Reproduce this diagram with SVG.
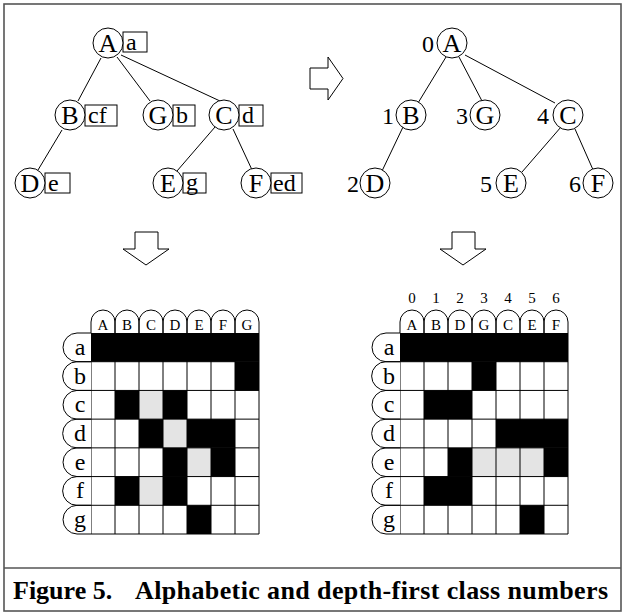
<svg xmlns="http://www.w3.org/2000/svg" width="626" height="616" viewBox="0 0 626 616">
<style>
.frame{fill:none;stroke:#555;stroke-width:1.6}
.edge{stroke:#000;stroke-width:1;fill:none}
.node circle{fill:#fff;stroke:#000;stroke-width:1}
.lab{fill:#fff;stroke:#000;stroke-width:1}
.t{font-family:"Liberation Serif","Times New Roman",serif;fill:#000}
.big{font-size:26px}
.mid{font-size:24px}
.sm{font-size:15px}
.hdr{fill:#fff;stroke:#000;stroke-width:1}
.grid{fill:none;stroke:#000;stroke-width:1}
.k{fill:#000}
.g{fill:#e4e4e4}
.arr{fill:#fff;stroke:#000;stroke-width:1}
.cap{font-family:"Liberation Serif","Times New Roman",serif;font-weight:bold;font-size:26px;fill:#000}
</style>
<rect x="0" y="0" width="626" height="616" fill="#fff"/>
<rect class="frame" x="4" y="4" width="617" height="607"/>
<line class="frame" x1="4" y1="568" x2="621" y2="568"/>

<!-- connectors -->
<g id="connectors">
<line class="edge" x1="101" y1="58" x2="78" y2="101"/>
<line class="edge" x1="117" y1="57" x2="150" y2="101"/>
<line class="edge" x1="121" y1="55" x2="220" y2="101"/>
<line class="edge" x1="62" y1="130" x2="38" y2="170"/>
<line class="edge" x1="215" y1="127" x2="177" y2="171"/>
<line class="edge" x1="233" y1="129" x2="253" y2="172"/>
<line class="edge" x1="446" y1="57" x2="418" y2="103"/>
<line class="edge" x1="459" y1="57" x2="482" y2="101"/>
<line class="edge" x1="465" y1="55" x2="555" y2="103"/>
<line class="edge" x1="403" y1="127" x2="382" y2="171"/>
<line class="edge" x1="561" y1="127" x2="522" y2="172"/>
<line class="edge" x1="575" y1="129" x2="594" y2="172"/>
</g>

<!-- left tree -->
<g id="L-A" class="node"><rect class="lab" x="123" y="32" width="24" height="20"/><circle cx="108" cy="43" r="15"/><text class="t big" x="108" y="52" text-anchor="middle">A</text><text class="t mid" x="126" y="50">a</text></g>
<g id="L-B" class="node"><rect class="lab" x="85" y="105" width="32" height="21"/><circle cx="70" cy="115" r="15"/><text class="t big" x="70" y="124" text-anchor="middle">B</text><text class="t mid" x="88" y="123">cf</text></g>
<g id="L-G" class="node"><rect class="lab" x="173" y="105" width="22" height="21"/><circle cx="158" cy="115" r="15"/><text class="t big" x="158" y="124" text-anchor="middle">G</text><text class="t mid" x="176" y="123">b</text></g>
<g id="L-C" class="node"><rect class="lab" x="239" y="105" width="24" height="21"/><circle cx="224" cy="115" r="15"/><text class="t big" x="224" y="124" text-anchor="middle">C</text><text class="t mid" x="242" y="123">d</text></g>
<g id="L-D" class="node"><rect class="lab" x="45" y="173" width="25" height="20"/><circle cx="30" cy="183" r="15"/><text class="t big" x="30" y="192" text-anchor="middle">D</text><text class="t mid" x="48" y="191">e</text></g>
<g id="L-E" class="node"><rect class="lab" x="183" y="173" width="23" height="20"/><circle cx="168" cy="183" r="15"/><text class="t big" x="168" y="192" text-anchor="middle">E</text><text class="t mid" x="186" y="190">g</text></g>
<g id="L-F" class="node"><rect class="lab" x="271" y="173" width="31" height="20"/><circle cx="256" cy="183" r="15"/><text class="t big" x="256" y="192" text-anchor="middle">F</text><text class="t mid" x="273" y="191">ed</text></g>

<!-- right tree -->
<g id="R-A" class="node"><circle cx="452" cy="43" r="15"/><text class="t big" x="452" y="52" text-anchor="middle">A</text><text class="t mid" x="434" y="52" text-anchor="end">0</text></g>
<g id="R-B" class="node"><circle cx="411" cy="115" r="15"/><text class="t big" x="411" y="124" text-anchor="middle">B</text><text class="t mid" x="394" y="124" text-anchor="end">1</text></g>
<g id="R-G" class="node"><circle cx="485" cy="115" r="15"/><text class="t big" x="485" y="124" text-anchor="middle">G</text><text class="t mid" x="468" y="124" text-anchor="end">3</text></g>
<g id="R-C" class="node"><circle cx="568" cy="115" r="15"/><text class="t big" x="568" y="124" text-anchor="middle">C</text><text class="t mid" x="549" y="124" text-anchor="end">4</text></g>
<g id="R-D" class="node"><circle cx="375" cy="183" r="15"/><text class="t big" x="375" y="192" text-anchor="middle">D</text><text class="t mid" x="359" y="192" text-anchor="end">2</text></g>
<g id="R-E" class="node"><circle cx="511" cy="183" r="15"/><text class="t big" x="511" y="192" text-anchor="middle">E</text><text class="t mid" x="492" y="192" text-anchor="end">5</text></g>
<g id="R-F" class="node"><circle cx="598" cy="183" r="15"/><text class="t big" x="598" y="192" text-anchor="middle">F</text><text class="t mid" x="581" y="192" text-anchor="end">6</text></g>

<!-- arrows -->
<g id="arrow-right"><path class="arr" d="M310,68 H328 V57 L343,78.5 L328,100 V89 H310 Z"/></g>
<g id="arrow-down-left"><path class="arr" d="M135,232 H158 V249 H169 L146,265 L123,249 H135 Z"/></g>
<g id="arrow-down-right"><path class="arr" d="M452,232 H475 V249 H486 L463,265 L440,249 H452 Z"/></g>

<!-- left matrix -->
<g id="matrix-left">
<rect x="91" y="333" width="168" height="201" fill="#fff"/>
<rect class="k" x="91" y="333" width="168" height="28.71"/>
<rect class="k" x="235" y="361.71" width="24" height="28.72"/>
<rect class="k" x="115" y="390.43" width="24" height="28.71"/>
<rect class="g" x="139" y="390.43" width="24" height="28.71"/>
<rect class="k" x="163" y="390.43" width="24" height="28.71"/>
<rect class="k" x="139" y="419.14" width="24" height="28.72"/>
<rect class="g" x="163" y="419.14" width="24" height="28.72"/>
<rect class="k" x="187" y="419.14" width="48" height="28.72"/>
<rect class="k" x="163" y="447.86" width="24" height="28.71"/>
<rect class="g" x="187" y="447.86" width="24" height="28.71"/>
<rect class="k" x="211" y="447.86" width="24" height="28.71"/>
<rect class="k" x="115" y="476.57" width="24" height="28.72"/>
<rect class="g" x="139" y="476.57" width="24" height="28.72"/>
<rect class="k" x="163" y="476.57" width="24" height="28.72"/>
<rect class="k" x="187" y="505.29" width="24" height="28.71"/>
<path class="grid" d="M91,333 H259 M91,361.71 H259 M91,390.43 H259 M91,419.14 H259 M91,447.86 H259 M91,476.57 H259 M91,505.29 H259 M91,534 H259 M91,333 V534 M115,333 V534 M139,333 V534 M163,333 V534 M187,333 V534 M211,333 V534 M235,333 V534 M259,333 V534"/>
<path class="hdr" d="M91,333 V322 A12,12 0 0 1 115,322 V333 M115,333 V322 A12,12 0 0 1 139,322 V333 M139,333 V322 A12,12 0 0 1 163,322 V333 M163,333 V322 A12,12 0 0 1 187,322 V333 M187,333 V322 A12,12 0 0 1 211,322 V333 M211,333 V322 A12,12 0 0 1 235,322 V333 M235,333 V322 A12,12 0 0 1 259,322 V333"/>
<g class="t sm" text-anchor="middle"><text x="103" y="330">A</text><text x="127" y="330">B</text><text x="151" y="330">C</text><text x="175" y="330">D</text><text x="199" y="330">E</text><text x="223" y="330">F</text><text x="247" y="330">G</text></g>
<path class="hdr" d="M91,333 H77 A14.36,14.36 0 0 0 77,361.71 H91 M91,361.71 H77 A14.36,14.36 0 0 0 77,390.43 H91 M91,390.43 H77 A14.36,14.36 0 0 0 77,419.14 H91 M91,419.14 H77 A14.36,14.36 0 0 0 77,447.86 H91 M91,447.86 H77 A14.36,14.36 0 0 0 77,476.57 H91 M91,476.57 H77 A14.36,14.36 0 0 0 77,505.29 H91 M91,505.29 H77 A14.36,14.36 0 0 0 77,534 H91"/>
<g class="t mid" text-anchor="middle"><text x="80" y="355">a</text><text x="80" y="384">b</text><text x="80" y="412">c</text><text x="80" y="441">d</text><text x="80" y="470">e</text><text x="80" y="498">f</text><text x="80" y="527">g</text></g>
</g>

<!-- right matrix -->
<g id="matrix-right">
<rect x="400" y="333" width="168" height="201" fill="#fff"/>
<rect class="k" x="400" y="333" width="168" height="28.71"/>
<rect class="k" x="472" y="361.71" width="24" height="28.72"/>
<rect class="k" x="424" y="390.43" width="48" height="28.71"/>
<rect class="k" x="496" y="419.14" width="72" height="28.72"/>
<rect class="k" x="448" y="447.86" width="24" height="28.71"/>
<rect class="g" x="472" y="447.86" width="72" height="28.71"/>
<rect class="k" x="544" y="447.86" width="24" height="28.71"/>
<rect class="k" x="424" y="476.57" width="48" height="28.72"/>
<rect class="k" x="520" y="505.29" width="24" height="28.71"/>
<path class="grid" d="M400,333 H568 M400,361.71 H568 M400,390.43 H568 M400,419.14 H568 M400,447.86 H568 M400,476.57 H568 M400,505.29 H568 M400,534 H568 M400,333 V534 M424,333 V534 M448,333 V534 M472,333 V534 M496,333 V534 M520,333 V534 M544,333 V534 M568,333 V534"/>
<path class="hdr" d="M400,333 V322 A12,12 0 0 1 424,322 V333 M424,333 V322 A12,12 0 0 1 448,322 V333 M448,333 V322 A12,12 0 0 1 472,322 V333 M472,333 V322 A12,12 0 0 1 496,322 V333 M496,333 V322 A12,12 0 0 1 520,322 V333 M520,333 V322 A12,12 0 0 1 544,322 V333 M544,333 V322 A12,12 0 0 1 568,322 V333"/>
<g class="t sm" text-anchor="middle"><text x="412" y="330">A</text><text x="436" y="330">B</text><text x="460" y="330">D</text><text x="484" y="330">G</text><text x="508" y="330">C</text><text x="532" y="330">E</text><text x="556" y="330">F</text></g>
<g class="t sm" text-anchor="middle"><text x="412" y="303">0</text><text x="436" y="303">1</text><text x="460" y="303">2</text><text x="484" y="303">3</text><text x="508" y="303">4</text><text x="532" y="303">5</text><text x="556" y="303">6</text></g>
<path class="hdr" d="M400,333 H386 A14.36,14.36 0 0 0 386,361.71 H400 M400,361.71 H386 A14.36,14.36 0 0 0 386,390.43 H400 M400,390.43 H386 A14.36,14.36 0 0 0 386,419.14 H400 M400,419.14 H386 A14.36,14.36 0 0 0 386,447.86 H400 M400,447.86 H386 A14.36,14.36 0 0 0 386,476.57 H400 M400,476.57 H386 A14.36,14.36 0 0 0 386,505.29 H400 M400,505.29 H386 A14.36,14.36 0 0 0 386,534 H400"/>
<g class="t mid" text-anchor="middle"><text x="389" y="355">a</text><text x="389" y="384">b</text><text x="389" y="412">c</text><text x="389" y="441">d</text><text x="389" y="470">e</text><text x="389" y="498">f</text><text x="389" y="527">g</text></g>
</g>

<!-- caption -->
<g id="caption">
<text class="cap" x="13" y="599">Figure 5.</text>
<text class="cap" x="135" y="599" textLength="473" lengthAdjust="spacing">Alphabetic and depth-first class numbers</text>
</g>
</svg>
